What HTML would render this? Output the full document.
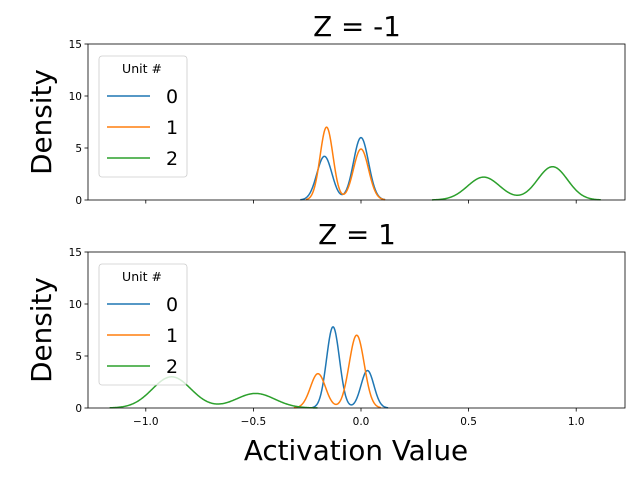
<!DOCTYPE html>
<html><head><meta charset="utf-8"><style>
body{margin:0;background:#fff;}
svg{display:block;font-family:"DejaVu Sans","Liberation Sans",sans-serif;}
</style></head><body>
<svg id="chart" width="640" height="480"></svg>
<script>
const xTicks=[-1.0,-0.5,0.0,0.5,1.0];
const xTickLabels=["\u22121.0","\u22120.5","0.0","0.5","1.0"];
const yTicks=[0,5,10,15];
const units=["0","1","2"];
const colors=["#1f77b4","#ff7f0e","#2ca02c"];
const panelTitles=["Z = -1","Z = 1"];
// KDE shapes: [center, peak height, width]
const topUnit0=[[-0.17,4.2,0.035],[0.0,6.0,0.035]];
const topUnit1=[[-0.16,7.0,0.03],[0.0,4.9,0.035]];
const topUnit2=[[0.57,2.2,0.075],[0.89,3.2,0.07]];
const botUnit0=[[-0.13,7.8,0.03],[0.03,3.6,0.03]];
const botUnit1=[[-0.2,3.3,0.035],[-0.02,7.0,0.035]];
const botUnit2=[[-0.88,3.0,0.09],[-0.49,1.4,0.09]];
const panels=[[topUnit0,topUnit1,topUnit2],[botUnit0,botUnit1,botUnit2]];

const NS="http://www.w3.org/2000/svg";
const svg=document.getElementById('chart');
function mk(t,a,p){const e=document.createElementNS(NS,t);for(const k in a)e.setAttribute(k,a[k]);(p||svg).appendChild(e);return e;}
const L=88,R=625,H=156,tops=[44,252];
const xs=v=>361+(v-0)*215.2;
panels.forEach((series,pi)=>{
  const T=tops[pi],B=T+H;
  const ys=v=>B-v*(H/15);
  const g=mk('g',{});
  
  
  series.forEach((comps,si)=>{
    const lo=Math.min(...comps.map(c=>c[0]-3.2*c[2])),hi=Math.max(...comps.map(c=>c[0]+3.2*c[2]));
    let d='';
    for(let i=0;i<=300;i++){const x=lo+(hi-lo)*i/300;let y=0;comps.forEach(c=>{y+=c[1]*Math.exp(-((x-c[0])**2)/(2*c[2]*c[2]));});
      d+=(i?'L':'M')+xs(x).toFixed(2)+','+ys(y).toFixed(2);}
    const p=mk('path',{d:d,fill:'none',stroke:colors[si],'stroke-width':1.5},g);
    
    
  });
  const fr=mk('rect',{x:L,y:T,width:R-L,height:H,fill:'none',stroke:'#000','stroke-width':0.8},g);
  
  
  xTicks.forEach((v,i)=>{
    mk('line',{x1:xs(v),x2:xs(v),y1:B,y2:B+3.5,stroke:'#000','stroke-width':0.8},g);
    if(pi==1){const t=mk('text',{x:xs(v),y:B+17,'font-size':10.5,'text-anchor':'middle'},g);t.textContent=xTickLabels[i];
      }
  });
  yTicks.forEach(v=>{
    mk('line',{x1:L-3.5,x2:L,y1:ys(v),y2:ys(v),stroke:'#000','stroke-width':0.8},g);
    const t=mk('text',{x:L-6,y:ys(v)+4,'font-size':10.5,'text-anchor':'end'},g);t.textContent=v;
    
  });
  const tt=mk('text',{x:357,y:T-8,'font-size':27.8,'text-anchor':'middle'},g);tt.textContent=panelTitles[pi];
  
  const yl=mk('text',{x:0,y:0,'font-size':27.8,'text-anchor':'middle',transform:`translate(51,${T+H/2}) rotate(-90)`},g);yl.textContent='Density';
  
  const lg=mk('g',{},g);
  
  
  mk('rect',{x:99,y:T+12,width:88,height:121,rx:3,fill:'#fff','fill-opacity':0.8,stroke:'#ccc','stroke-width':0.8},lg);
  const lt=mk('text',{x:142,y:T+29,'font-size':12.5,'text-anchor':'middle'},lg);lt.textContent='Unit #';
  units.forEach((u,i)=>{
    const yy=T+52+i*31;
    const e=mk('g',{},lg);
    
    
    mk('line',{x1:107,x2:150,y1:yy,y2:yy,stroke:colors[i],'stroke-width':1.5},e);
    const t=mk('text',{x:166,y:yy+7,'font-size':19},e);t.textContent=u;
  });
});
const xl=mk('text',{x:356,y:460,'font-size':27.8,'text-anchor':'middle'});xl.textContent='Activation Value';

</script>
</body></html>
